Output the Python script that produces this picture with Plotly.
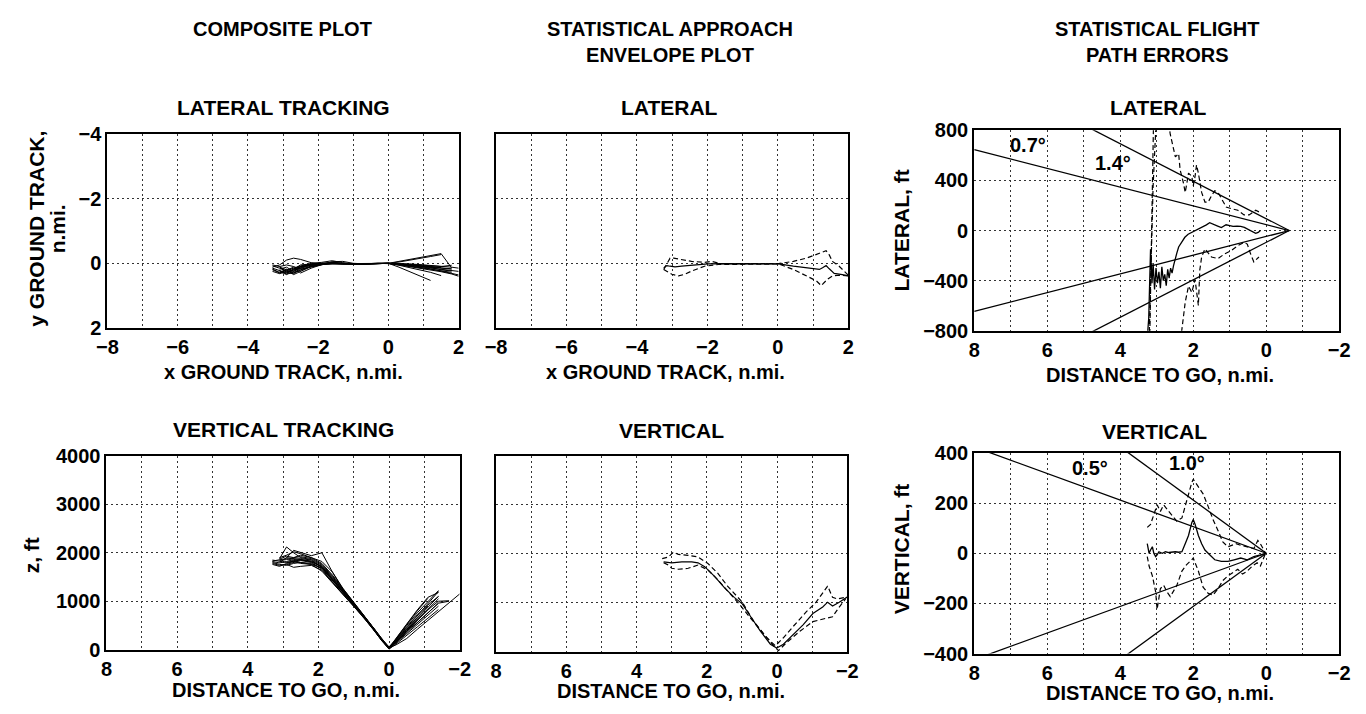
import plotly.graph_objects as go

# ---------------- DATA ----------------
# Composite lateral tracking (x ground track n.mi. vs y ground track n.mi.)
comp_lat_x = [-3.3, -3.1, -2.9, -2.7, -2.5, -2.2, -1.9, -1.6, -1.3, -1.0, -0.6, -0.3,
              0.0, 0.3, 0.6, 0.9, 1.2, 1.5, 1.8, 2.0]
lat_run_1 = [0.12, 0.05, -0.10, -0.16, -0.12, -0.02, 0.02, -0.04, 0.00, 0.02, 0.01, 0.00,
             0.00, -0.06, -0.12, -0.18, -0.24, -0.30, 0.14, None]
lat_run_2 = [None, 0.10, 0.28, 0.18, 0.10, 0.04, 0.00, -0.02, 0.01, 0.02, 0.02, 0.01,
             0.00, -0.04, -0.09, -0.15, -0.21, -0.27, None, None]
lat_run_3 = [0.20, 0.30, 0.22, 0.15, 0.08, 0.02, -0.01, 0.00, 0.02, 0.03, 0.02, 0.00,
             0.00, 0.03, 0.06, 0.09, 0.12, 0.16, 0.18, None]
lat_run_4 = [None, 0.25, 0.35, 0.25, 0.12, 0.06, 0.03, 0.01, 0.02, 0.03, 0.02, 0.01,
             0.00, 0.05, 0.10, 0.15, 0.20, 0.26, 0.33, 0.40]
lat_run_5 = [None, None, 0.30, 0.32, 0.20, 0.08, 0.02, -0.02, 0.00, 0.02, 0.01, 0.00,
             0.00, 0.12, 0.25, 0.38, 0.53, None, None, None]
lat_run_6 = [0.15, 0.22, 0.30, 0.20, 0.10, 0.05, 0.01, 0.00, 0.01, 0.02, 0.01, 0.00,
             0.00, 0.02, 0.05, 0.09, 0.13, 0.20, 0.24, None]
lat_run_7 = [None, 0.18, 0.12, 0.25, 0.15, 0.00, -0.03, -0.08, -0.02, 0.02, 0.02, 0.00,
             0.00, 0.04, 0.08, 0.12, 0.17, 0.24, 0.30, 0.36]
lat_run_8 = [0.08, 0.15, 0.25, 0.28, 0.22, 0.10, 0.04, 0.00, 0.01, 0.02, 0.01, 0.00,
             0.00, 0.01, 0.03, 0.05, 0.08, 0.10, 0.06, None]
lat_run_9 = [None, 0.22, 0.33, 0.18, 0.05, 0.02, 0.00, -0.01, 0.01, 0.01, 0.00, 0.00,
             0.00, 0.06, 0.13, 0.20, 0.28, 0.38, None, None]
lat_run_10 = [0.18, 0.28, 0.18, 0.30, 0.16, 0.06, 0.02, 0.01, 0.02, 0.02, 0.01, 0.01,
              0.00, 0.03, 0.07, 0.11, 0.15, 0.19, 0.22, 0.25]
lat_run_11 = [0.25, 0.32, 0.26, 0.22, 0.12, 0.04, 0.01, 0.00, 0.01, 0.02, 0.01, 0.00,
              0.00, 0.02, 0.04, 0.07, 0.10, 0.14, 0.17, None]
lat_run_12 = [None, 0.12, 0.20, 0.35, 0.25, 0.10, 0.03, 0.00, 0.02, 0.02, 0.01, 0.00,
              0.00, 0.04, 0.09, 0.14, 0.19, 0.23, 0.28, None]
lat_run_13 = [0.05, 0.10, 0.05, 0.10, 0.18, 0.12, 0.05, -0.05, -0.06, 0.00, 0.02, 0.01,
              0.00, 0.03, 0.05, 0.08, 0.11, 0.13, None, None]
lat_run_14 = [None, 0.30, 0.20, 0.12, 0.30, 0.15, 0.04, 0.01, 0.01, 0.02, 0.01, 0.00,
              0.00, 0.01, 0.02, 0.04, 0.06, 0.09, 0.12, 0.15]

# Composite vertical tracking (distance to go n.mi. vs z ft)
comp_vert_x = [3.3, 3.1, 2.9, 2.7, 2.5, 2.2, 1.9, 1.6, 1.3, 1.0, 0.7, 0.4, 0.2, 0.0,
               -0.2, -0.5, -0.8, -1.1, -1.4, -1.7, -2.0]
vert_run_1 = [1850, 1820, 1800, 1830, 1850, 1820, 1700, 1450, 1200, 950, 680, 400, 200, 50,
              180, 420, 650, 880, 1100, None, None]
vert_run_2 = [None, 1880, 2120, 2000, 1900, 1860, 1740, 1500, 1230, 960, 690, 410, 210, 40,
              150, 350, 560, 760, 960, None, None]
vert_run_3 = [1800, 1760, 1740, 1780, 1800, 1780, 1680, 1420, 1180, 940, 670, 390, 190, 30,
              200, 450, 700, 950, 1200, None, None]
vert_run_4 = [None, 1900, 1950, 2020, 1980, 1900, 1820, 1600, 1260, 980, 700, 420, 220, 40,
              100, 230, 420, 600, 780, 960, 1150]
vert_run_5 = [1780, 1740, 1760, 1800, 1840, 1800, 1660, 1400, 1150, 920, 660, 380, 180, 20,
              220, 500, 760, 1000, 1220, None, None]
vert_run_6 = [None, None, 1900, 1880, 1860, 1830, 1720, 1470, 1210, 950, 680, 400, 200, 40,
              160, 380, 600, 820, 1000, 1010, None]
vert_run_7 = [None, 1840, 1860, 1900, 1920, 1880, 1760, 1520, 1240, 970, 700, 420, 210, 50,
              170, 400, 620, 850, 1050, None, None]
vert_run_8 = [None, None, 1760, 1700, 1720, 1740, 1640, 1380, 1140, 900, 650, 380, 190, 20,
              140, 330, 520, 720, 900, None, None]
vert_run_9 = [None, 1800, 1900, 2050, 2000, 1940, 2000, 1600, 1240, 970, 690, 410, 200, 30,
              190, 430, 660, 900, None, None, None]
vert_run_10 = [1820, 1790, 1820, 1860, 1880, 1850, 1700, 1440, 1190, 940, 670, 390, 190, 30,
               230, 520, 800, 1060, None, None, None]
vert_run_11 = [1760, 1720, 1780, 1820, 1800, 1760, 1620, 1380, 1150, 910, 650, 370, 180, 20,
               160, 380, 560, 760, 960, 1000, None]
vert_run_12 = [None, 1870, 1930, 1900, 1950, 1900, 1780, 1540, 1260, 990, 710, 430, 220, 60,
               210, 470, 720, 920, 1100, None, None]
vert_run_13 = [None, None, 1800, 1820, 1780, 1760, 1690, 1430, 1170, 930, 660, 380, 190, 10,
               120, 290, 470, 650, 830, None, None]
vert_run_14 = [1830, 1860, 1880, 1840, 1860, 1810, 1720, 1480, 1220, 960, 690, 400, 200, 40,
               240, 540, 820, 1080, 1180, None, None]

# Statistical approach envelope - lateral (mean and mean +/- sigma)
env_lat_mean_x = [-3.24, -3.15, -3.06, -2.92, -2.73, -2.54, -2.27, -1.99, -1.61, -1.05, -0.49,
                  0.02, 0.44, 0.81, 1.18, 1.27, 1.37, 1.46, 1.60, 1.83, 2.02]
env_lat_mean = [0.14, 0.07, 0.09, 0.11, 0.09, 0.07, 0.04, 0.02, 0.01, 0.01, 0.02,
                0.02, 0.09, 0.15, 0.19, 0.14, 0.07, 0.17, 0.31, 0.35, 0.39]
env_lat_up_x = [-3.24, -3.15, -3.06, -2.96, -2.73, -2.45, -2.08, -1.89, -1.61, -1.05, -0.49,
                0.02, 0.44, 0.81, 1.18, 1.37, 1.46, 1.55, 1.74, 2.02]
env_lat_up = [0.19, -0.01, -0.16, -0.16, -0.11, -0.06, -0.03, -0.06, 0.01, 0.01, 0.00,
              0.01, -0.06, -0.16, -0.31, -0.39, -0.26, -0.06, 0.09, 0.39]
env_lat_lo_x = [-3.24, -3.10, -3.01, -2.82, -2.64, -2.45, -2.27, -2.08, -1.80, -1.61, -1.05,
                -0.49, 0.02, 0.44, 0.81, 1.09, 1.23, 1.32, 1.41, 1.55, 1.74, 2.02]
env_lat_lo = [0.19, 0.29, 0.34, 0.39, 0.34, 0.24, 0.17, 0.09, 0.05, 0.03, 0.03,
              0.03, 0.02, 0.19, 0.39, 0.54, 0.69, 0.59, 0.49, 0.39, 0.37, 0.39]

# Statistical approach envelope - vertical
env_vert_mean_x = [3.23, 3.00, 2.71, 2.43, 2.25, 2.06, 1.78, 1.50, 1.22, 0.99, 0.75, 0.47,
                   0.19, 0.01, -0.18, -0.46, -0.74, -1.02, -1.30, -1.44, -1.58, -1.77, -2.05]
env_vert_mean = [1835, 1815, 1835, 1835, 1815, 1736, 1538, 1307, 1109, 977, 713, 416,
                 152, 73, 152, 350, 548, 779, 911, 1010, 931, 1010, 1142]
env_vert_up_x = [3.27, 3.09, 2.95, 2.81, 2.53, 2.25, 1.97, 1.69, 1.41, 1.13, 0.99, 0.66,
                 0.29, 0.05, -0.18, -0.46, -0.83, -1.11, -1.39, -1.44, -1.58, -1.72, -1.95]
env_vert_up = [1901, 1934, 2033, 1986, 1966, 1934, 1802, 1604, 1340, 1109, 1010, 614,
               283, 119, 283, 515, 812, 1010, 1274, 1340, 1109, 1076, 1109]
env_vert_lo_x = [3.23, 3.09, 3.00, 2.81, 2.53, 2.25, 1.97, 1.69, 1.41, 1.08, 0.75, 0.38,
                 0.10, -0.04, -0.27, -0.65, -1.02, -1.39, -1.58, -1.77, -1.95]
env_vert_lo = [1815, 1769, 1703, 1683, 1703, 1769, 1670, 1472, 1241, 977, 680, 350,
               119, 20, 185, 416, 614, 680, 713, 911, 1076]

# Statistical flight path errors - lateral (ft)
err_lat_mean_x = [3.27, 3.22, 3.17, 3.13, 3.10, 3.06, 3.02, 2.98, 2.94, 2.90, 2.86, 2.82,
                  2.78, 2.74, 2.70, 2.66, 2.62, 2.58, 2.54, 2.50, 2.45, 2.40, 2.32, 2.23,
                  2.14, 2.04, 1.95, 1.86, 1.78, 1.72, 1.64, 1.55, 1.48, 1.42, 1.33, 1.23,
                  1.16, 1.10, 1.00, 0.91, 0.80, 0.70, 0.60, 0.48, 0.38, 0.29, 0.22, 0.16]
err_lat_mean = [-900, -700, -150, -420, -260, -470, -300, -420, -330, -460, -290, -400,
                -350, -440, -310, -380, -300, -340, -280, -224, -180, -131, -90, -54,
                -30, -15, -5, 8, 20, 33, 45, 62, 55, 46, 35, 23,
                35, 46, 40, 33, 35, 33, 25, 8, -5, -23, -15, 0]
err_lat_up_x = [3.22, 3.18, 3.14, 3.10, 3.06, 3.02, 2.90, 2.75, 2.63, 2.54, 2.49, 2.40,
                2.36, 2.27, 2.22, 2.18, 2.13, 2.04, 2.00, 1.95, 1.91, 1.86, 1.82, 1.77,
                1.68, 1.59, 1.50, 1.41, 1.32, 1.23, 1.10, 0.96, 0.78, 0.61, 0.47, 0.29, 0.20]
err_lat_up = [-1000, -500, 0, 350, 600, 850, 1100, 1000, 768, 665, 587, 613,
              485, 381, 304, 369, 458, 433, 356, 433, 523, 458, 381, 304,
              227, 227, 278, 317, 304, 253, 188, 175, 162, 124, 124, 162, 149]
err_lat_lo_x = [3.08, 3.12, 3.16, 3.20, 2.40, 2.31, 2.22, 2.13, 2.04, 1.95, 1.86, 1.82,
                1.77, 1.68, 1.50, 1.32, 1.14, 0.96, 0.78, 0.61, 0.52, 0.43, 0.34, 0.20]
err_lat_lo = [1000, 300, -400, -1000, -1000, -800, -572, -443, -494, -392, -598, -314,
              -211, -147, -211, -224, -186, -160, -121, -95, -108, -186, -250, -211]
# lateral cone lines (0.7 and 1.4 degrees from the localizer at -0.63 n.mi.)
cone_lat_x = [8.0, -0.63]
cone_lat_07 = [645, 0]
cone_lat_14 = [1290, 0]

# Statistical flight path errors - vertical (ft)
err_vert_mean_x = [3.26, 3.21, 3.17, 3.12, 3.08, 3.03, 2.99, 2.94, 2.85, 2.76, 2.67, 2.58,
                   2.49, 2.40, 2.31, 2.22, 2.13, 2.04, 2.00, 1.95, 1.86, 1.77, 1.68, 1.55,
                   1.41, 1.23, 1.05, 0.88, 0.70, 0.52, 0.34, 0.16, 0.02]
err_vert_mean = [38, 0, 13, 26, 0, -13, -6, 6, 0, 6, 3, 6,
                 6, 4, 6, 38, 71, 122, 135, 116, 71, 38, 13, -6,
                 -26, -32, -32, -26, -19, -26, -13, -6, 0]
err_vert_up_x = [3.26, 3.17, 3.08, 2.99, 2.90, 2.81, 2.67, 2.54, 2.45, 2.31,
                 2.18, 2.04, 2.00, 1.86, 1.73, 1.59, 1.46, 1.32, 1.19, 1.05, 0.96, 0.83,
                 0.70, 0.52, 0.34, 0.23, 0.16, 0.02]
err_vert_up = [103, 115, 154, 193, 167, 193, 167, 141, 128, 141,
               212, 282, 295, 263, 237, 186, 135, 90, 45, 26, 32, 38,
               32, 26, 19, 51, 38, 0]
err_vert_lo_x = [3.26, 3.21, 3.12, 3.08, 3.03, 2.99, 2.94, 2.90, 2.81, 2.72, 2.63, 2.54,
                 2.45, 2.31, 2.18, 2.04, 2.00, 1.86, 1.73, 1.59, 1.46, 1.32, 1.19, 1.05,
                 0.92, 0.78, 0.65, 0.52, 0.38, 0.25, 0.16, 0.02]
err_vert_lo = [-13, -51, -90, -116, -154, -224, -180, -141, -128, -154, -173, -148,
               -128, -71, -45, -26, -19, -71, -135, -160, -167, -141, -109, -90,
               -77, -64, -83, -71, -51, -38, -51, 0]
# vertical cone lines (0.5 and 1.0 degrees from touchdown point)
cone_vert_x = [8.0, 0.0]
cone_vert_05 = [424, 0]
cone_vert_10 = [848, 0]

# ---------------- FIGURE ----------------
W, H = 1366, 714
FONT = "Liberation Sans, Arial, Helvetica, sans-serif"
BLACK = "black"
DASH = "5px,3px"

fig = go.Figure()


def line(x, y, xa, ya, width=1.2, dash="solid"):
    fig.add_trace(go.Scatter(x=x, y=y, xaxis=xa, yaxis=ya, mode="lines",
                             line=dict(color=BLACK, width=width, dash=dash),
                             connectgaps=False, hoverinfo="skip", showlegend=False))


for run in [lat_run_1, lat_run_2, lat_run_3, lat_run_4, lat_run_5, lat_run_6, lat_run_7,
            lat_run_8, lat_run_9, lat_run_10, lat_run_11, lat_run_12, lat_run_13, lat_run_14]:
    line(comp_lat_x, run, "x", "y", width=1.0)

line(env_lat_mean_x, env_lat_mean, "x2", "y2", width=1.2)
line(env_lat_up_x, env_lat_up, "x2", "y2", width=1.2, dash=DASH)
line(env_lat_lo_x, env_lat_lo, "x2", "y2", width=1.2, dash=DASH)

for c in [cone_lat_07, cone_lat_14]:
    line(cone_lat_x, c, "x3", "y3", width=1.3)
    line(cone_lat_x, [-v for v in c], "x3", "y3", width=1.3)
line(err_lat_mean_x, err_lat_mean, "x3", "y3", width=1.3)
line(err_lat_up_x, err_lat_up, "x3", "y3", width=1.2, dash=DASH)
line(err_lat_lo_x, err_lat_lo, "x3", "y3", width=1.2, dash=DASH)

for run in [vert_run_1, vert_run_2, vert_run_3, vert_run_4, vert_run_5, vert_run_6, vert_run_7,
            vert_run_8, vert_run_9, vert_run_10, vert_run_11, vert_run_12, vert_run_13,
            vert_run_14]:
    line(comp_vert_x, run, "x4", "y4", width=1.0)

line(env_vert_mean_x, env_vert_mean, "x5", "y5", width=1.2)
line(env_vert_up_x, env_vert_up, "x5", "y5", width=1.2, dash=DASH)
line(env_vert_lo_x, env_vert_lo, "x5", "y5", width=1.2, dash=DASH)

for c in [cone_vert_05, cone_vert_10]:
    line(cone_vert_x, c, "x6", "y6", width=1.3)
    line(cone_vert_x, [-v for v in c], "x6", "y6", width=1.3)
line(err_vert_mean_x, err_vert_mean, "x6", "y6", width=1.3)
line(err_vert_up_x, err_vert_up, "x6", "y6", width=1.2, dash=DASH)
line(err_vert_lo_x, err_vert_lo, "x6", "y6", width=1.2, dash=DASH)

TICKFONT = dict(family=FONT, size=20, color=BLACK, weight=700)
GRID = dict(showgrid=True, gridcolor="#333", gridwidth=1, griddash="2px,3px")


def xaxis(px0, px1, rng, anchor, labels=True):
    return dict(domain=[px0 / W, px1 / W], range=rng, anchor=anchor, dtick=2, tick0=0,
                showline=True, mirror=True, linecolor=BLACK, linewidth=2,
                zeroline=False, ticks="", showticklabels=labels, tickfont=TICKFONT,
                minor=dict(dtick=1, tick0=0, ticks="", **GRID), **GRID)


def yaxis(py0, py1, rng, dtick, anchor, labels=True):
    return dict(domain=[1 - py1 / H, 1 - py0 / H], range=rng, anchor=anchor, dtick=dtick,
                tick0=0, showline=True, mirror=True, linecolor=BLACK, linewidth=2,
                zeroline=False, ticks="", showticklabels=labels, tickfont=TICKFONT,
                **GRID)


fig.update_layout(
    width=W, height=H, margin=dict(l=0, r=0, t=0, b=0),
    paper_bgcolor="white", plot_bgcolor="white", showlegend=False,
    xaxis=xaxis(98, 455, [-8, 2], "y"),
    yaxis=yaxis(127, 327, [2, -4], 2, "x"),
    xaxis2=xaxis(493, 851, [-8, 2], "y2"),
    yaxis2=yaxis(127, 327, [2, -4], 2, "x2", labels=False),
    xaxis3=xaxis(979, 1350, [8, -2], "y3"),
    yaxis3=yaxis(123, 330, [-800, 800], 400, "x3"),
    xaxis4=xaxis(97, 456, [8, -2], "y4"),
    yaxis4=yaxis(459, 659, [0, 4000], 1000, "x4"),
    xaxis5=xaxis(493, 850, [8, -2], "y5"),
    yaxis5=yaxis(459, 661, [0, 4000], 1000, "x5", labels=False),
    xaxis6=xaxis(979, 1350, [8, -2], "y6"),
    yaxis6=yaxis(456, 663, [-400, 400], 200, "x6"),
)


def ann(text, px, py, size=21, angle=0):
    fig.add_annotation(text=text, x=px / W, y=1 - py / H, xref="paper", yref="paper",
                       showarrow=False, xanchor="center", yanchor="middle", textangle=angle,
                       font=dict(family=FONT, size=size, color=BLACK, weight=700))


# column headers
ann("COMPOSITE PLOT", 276, 19, 20)
ann("STATISTICAL APPROACH<br>ENVELOPE PLOT", 670, 32, 20)
ann("STATISTICAL FLIGHT<br>PATH ERRORS", 1165, 32, 20)
# subplot titles
ann("LATERAL TRACKING", 277, 100)
ann("LATERAL", 669, 100)
ann("LATERAL", 1166, 100)
ann("VERTICAL TRACKING", 277, 432)
ann("VERTICAL", 671, 433)
ann("VERTICAL", 1162, 434)
# x-axis titles
ann("x GROUND TRACK, n.mi.", 277, 372, 20)
ann("x GROUND TRACK, n.mi.", 665, 372, 20)
ann("DISTANCE TO GO, n.mi.", 1168, 376, 20)
ann("DISTANCE TO GO, n.mi.", 280, 701, 20)
ann("DISTANCE TO GO, n.mi.", 671, 702, 20)
ann("DISTANCE TO GO, n.mi.", 1168, 704, 20)
# y-axis titles
ann("y GROUND TRACK,", 25, 225, angle=-90)
ann("n.mi.", 47, 225, angle=-90)
ann("z, ft", 21, 562, angle=-90)
ann("LATERAL, ft", 905, 226, angle=-90)
ann("VERTICAL, ft", 905, 555, angle=-90)

# cone angle labels (data coordinates)
for txt, xv, yv, xr, yr in [("0.7°", 6.52, 680, "x3", "y3"), ("1.4°", 4.21, 541, "x3", "y3"),
                            ("0.5°", 4.82, 341, "x6", "y6"), ("1.0°", 2.18, 358, "x6", "y6")]:
    fig.add_annotation(text=txt, x=xv, y=yv, xref=xr, yref=yr, showarrow=False,
                       xanchor="center", yanchor="middle",
                       font=dict(family=FONT, size=20, color=BLACK, weight=700))

fig.write_html("out.html", config={"displayModeBar": False},
               post_script="document.body.style.margin='0';")
